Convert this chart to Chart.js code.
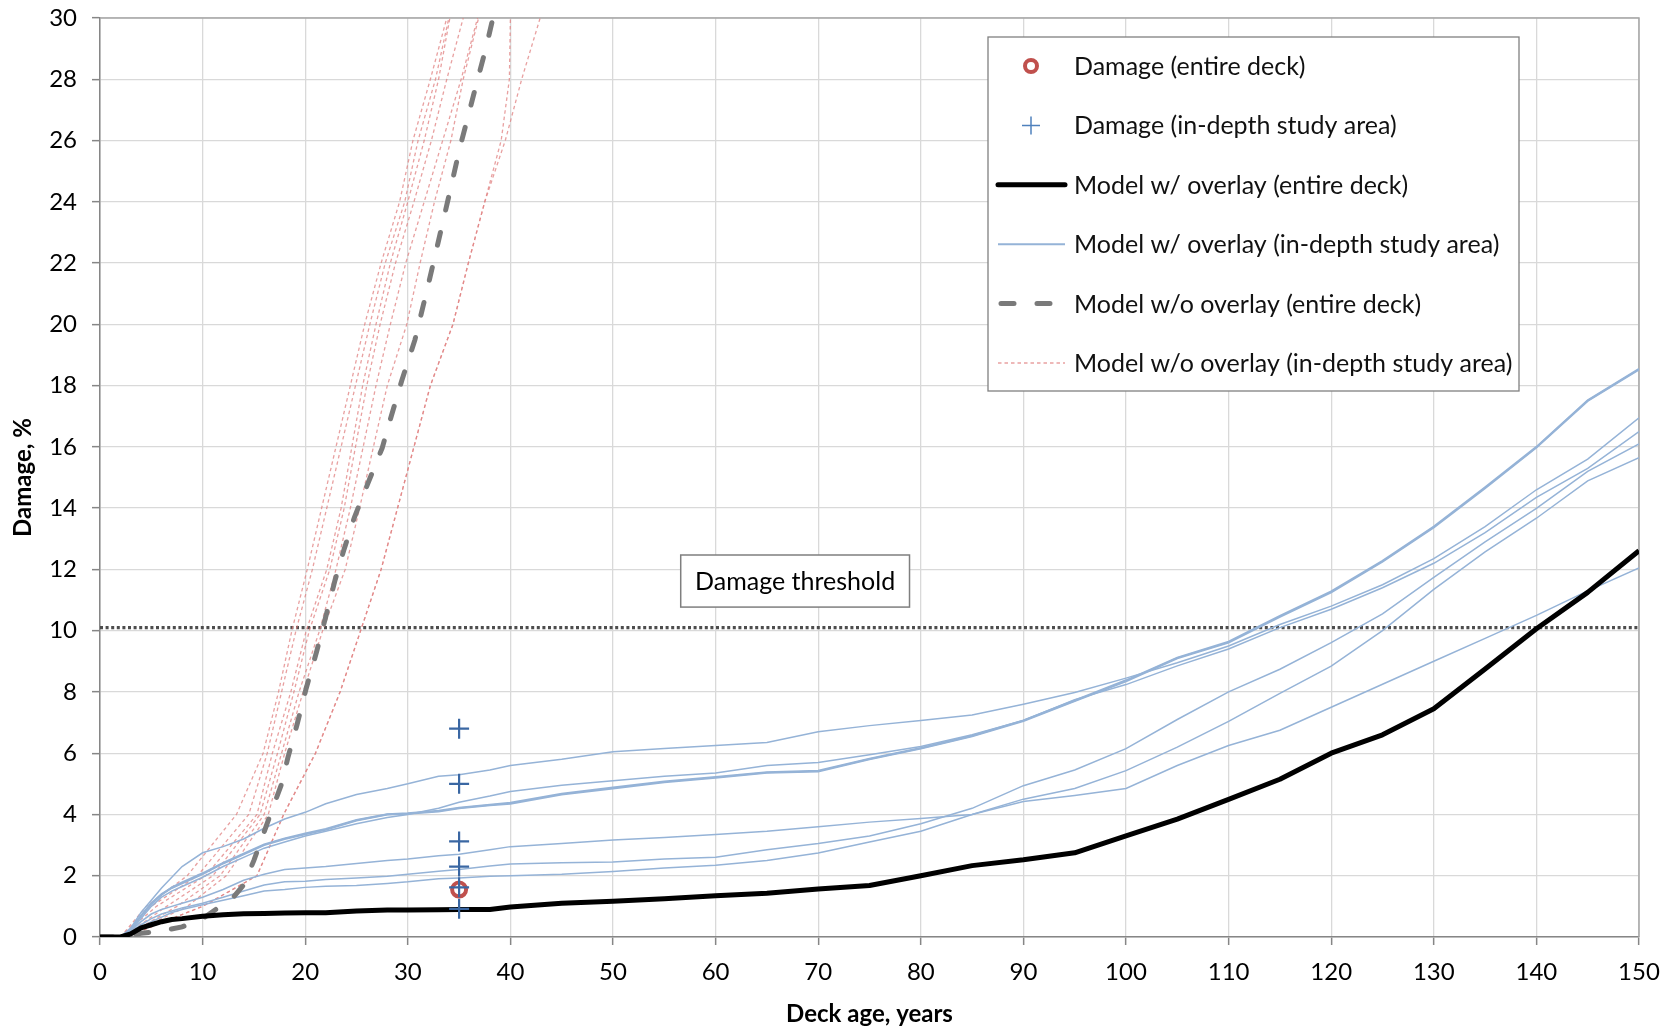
<!DOCTYPE html>
<html>
<head>
<meta charset="utf-8">
<script src="https://cdn.jsdelivr.net/npm/chart.js@4.4.1/dist/chart.umd.min.js"></script>
<style>
  html, body { margin: 0; padding: 0; background: #fff; }
  #wrap { width: 1673px; height: 1029px; }
</style>
</head>
<body>
<div id="wrap"><canvas id="chart" width="1673" height="1029"></canvas></div>
<script>
// Deck damage vs. age — model with/without overlay

// shared age grid for the "with overlay" model curves (years)
const AGE = [0,2,3,4,5,6,7,8,10,12,14,16,18,20,22,25,28,30,33,35,38,40,45,50,55,60,65,70,75,80,85,90,95,100,105,110,115,120,125,130,135,140,145,150];

// Model w/ overlay (entire deck), %
const WITH_DECK = [0,0,0.1,0.3,0.4,0.5,0.57,0.6,0.68,0.73,0.76,0.77,0.78,0.79,0.79,0.85,0.88,0.88,0.89,0.9,0.9,0.98,1.1,1.17,1.25,1.35,1.43,1.57,1.68,2.0,2.33,2.52,2.75,3.3,3.85,4.49,5.15,6.0,6.6,7.45,8.75,10.06,11.25,12.61];

// Model w/ overlay (in-depth study area), one list per run
const WITH_AREA_1 = [0,0,0.3,0.8,1.2,1.6,1.95,2.3,2.75,2.95,3.2,3.55,3.85,4.07,4.35,4.65,4.85,5.0,5.25,5.3,5.45,5.6,5.8,6.05,6.15,6.25,6.35,6.7,6.9,7.07,7.25,7.6,7.98,8.45,8.95,9.5,10.2,10.8,11.5,12.35,13.4,14.6,15.6,16.95];
const WITH_AREA_2 = [0,0,0.2,0.6,1.0,1.3,1.5,1.65,1.95,2.3,2.6,2.9,3.1,3.3,3.45,3.7,3.9,4.0,4.2,4.4,4.6,4.75,4.95,5.1,5.25,5.35,5.6,5.7,5.95,6.22,6.6,7.07,7.75,8.24,8.85,9.4,10.1,10.7,11.4,12.2,13.2,14.35,15.3,16.5];
const WITH_AREA_3 = [0,0,0.25,0.7,1.1,1.4,1.6,1.75,2.05,2.4,2.7,3.0,3.2,3.35,3.5,3.8,4.0,4.02,4.1,4.2,4.3,4.35,4.65,4.85,5.05,5.2,5.36,5.4,5.8,6.15,6.55,7.05,7.7,8.35,9.1,9.61,10.45,11.25,12.25,13.37,14.65,15.98,17.5,18.52];
const WITH_AREA_4 = [0,0,0.24,0.68,1.08,1.38,1.62,1.78,2.08,2.42,2.72,3.02,3.22,3.38,3.53,3.82,4.01,4.04,4.12,4.22,4.32,4.38,4.68,4.88,5.08,5.22,5.38,5.43,5.82,6.17,6.57,7.07,7.72,8.38,9.12,9.64,10.48,11.28,12.28,13.4,14.68,16.0,17.52,18.55];
const WITH_AREA_5 = [0,0,0.2,0.5,0.75,0.9,1.0,1.1,1.3,1.55,1.85,2.05,2.2,2.25,2.3,2.4,2.5,2.55,2.65,2.7,2.85,2.95,3.05,3.17,3.25,3.35,3.45,3.6,3.75,3.87,4.0,4.42,4.62,4.85,5.6,6.25,6.75,7.5,8.25,9.0,9.75,10.5,11.3,12.05];
const WITH_AREA_6 = [0,0,0.15,0.4,0.6,0.75,0.85,0.95,1.1,1.3,1.5,1.7,1.8,1.82,1.88,1.93,1.98,2.05,2.15,2.2,2.32,2.38,2.42,2.45,2.55,2.6,2.85,3.05,3.3,3.7,4.2,4.94,5.45,6.15,7.1,8.0,8.74,9.61,10.55,11.74,12.9,13.99,15.2,16.1];
const WITH_AREA_7 = [0,0,0.1,0.3,0.5,0.65,0.8,0.9,1.05,1.2,1.35,1.5,1.55,1.62,1.66,1.68,1.75,1.8,1.9,1.93,1.98,2.0,2.05,2.14,2.25,2.34,2.5,2.74,3.1,3.45,4.0,4.5,4.85,5.43,6.2,7.04,7.95,8.84,10.0,11.35,12.57,13.67,14.89,15.65];

// Model w/o overlay (entire deck)
const WITHOUT_DECK_AGE = [0,2,4,6,8,10,11.5,13,14,15,16.5,17.7,18.3,19.2,20.1,21.1,22.0,22.9,23.8,24.8,26.1,27.5,28.3,29.4,30.7,32.0,33.6,35.1,36.5,37.6,38.3];
const WITHOUT_DECK_VAL = [0,0,0.12,0.2,0.33,0.6,0.95,1.3,1.7,2.5,3.9,5.0,5.84,6.93,8.12,9.3,10.45,11.64,12.67,13.7,14.8,15.96,16.9,18.15,19.5,21.3,23.6,25.8,27.6,29.0,30.0];

// Model w/o overlay (in-depth study area): age (years) at which each damage level is reached
const WITHOUT_AREA_LEVEL = [0,1,2,4,6,8,10,12,14,18,20,22,24,26,28,30];
const WITHOUT_AREA_AGES = [
  [2.0,4.5,8.5,13.3,15.9,17.4,18.7,20.2,21.6,24.4,25.8,27.4,29.2,30.5,32.2,33.8],
  [2.0,5.0,9.5,14.5,16.3,17.7,19.1,20.7,22.1,24.9,26.3,27.8,29.7,31.0,32.7,34.0],
  [2.0,5.5,10.3,15.3,16.8,18.6,20.1,22.1,23.5,25.6,26.9,28.3,30.0,31.6,33.0,34.1],
  [2.2,6.5,11.0,15.6,17.3,18.9,20.4,22.4,23.8,26.0,27.3,28.8,30.6,32.3,33.8,35.4],
  [2.3,7.5,11.7,16.0,17.7,19.4,21.4,23.0,24.4,26.9,28.3,29.8,31.6,33.4,35.2,36.8],
  [2.3,8.5,12.3,16.4,18.0,19.8,21.7,23.9,25.3,28.0,29.9,31.2,32.6,34.2,35.4,36.9],
  [2.5,10.0,15.3,17.9,21.0,23.4,25.4,27.4,29.0,32.2,34.4,35.9,37.5,39.1,39.9,40.0],
  [2.5,10.0,15.3,17.9,21.0,23.4,25.4,27.4,29.0,32.2,34.4,35.9,37.5,39.5,41.1,42.9]
];

// field observations at deck age 35
const OBS_AGE = 35;
const OBS_DECK = [1.55];
const OBS_AREA = [6.8, 5.0, 3.12, 2.3, 1.62, 0.92];

const THRESHOLD = 10.1;
const X_TICKS = { min: 0, max: 150, step: 10 };
const Y_TICKS = { min: 0, max: 30, step: 2 };

const FONT = "Lato";
const BLUE_LINE = "#95b3d7";
const RED_DOT = "rgba(224,128,128,0.75)";
const GREY_DASH = "#7a7a7a";
const OBS_RED = "#c0504d";
const OBS_BLUE = "#3a67a3";

function pts(xs, ys) { return xs.map((x, i) => ({ x, y: ys[i] })); }

const datasets = [];
datasets.push({ label: "Damage (in-depth study area)", data: OBS_AREA.map(v => ({ x: OBS_AGE, y: v })),
  showLine: false, pointStyle: "cross", pointRadius: 10, borderColor: OBS_BLUE, borderWidth: 2.2, order: 0 });
datasets.push({ label: "Damage (entire deck)", data: OBS_DECK.map(v => ({ x: OBS_AGE, y: v })),
  showLine: false, pointStyle: "circle", pointRadius: 7, borderColor: OBS_RED, backgroundColor: "rgba(0,0,0,0)", borderWidth: 4, order: 1 });
datasets.push({ label: "Model w/ overlay (entire deck)", data: pts(AGE, WITH_DECK),
  borderColor: "#000", borderWidth: 5, borderJoinStyle: "round", pointRadius: 0, order: 2 });
datasets.push({ label: "Model w/o overlay (entire deck)", data: pts(WITHOUT_DECK_AGE, WITHOUT_DECK_VAL),
  borderColor: GREY_DASH, borderWidth: 5, borderDash: [13, 23], borderCapStyle: "round", pointRadius: 0, order: 3 });
[WITH_AREA_1, WITH_AREA_2, WITH_AREA_3, WITH_AREA_4, WITH_AREA_5, WITH_AREA_6, WITH_AREA_7].forEach((s, i) => {
  datasets.push({ label: "Model w/ overlay (in-depth study area) " + (i + 1), data: pts(AGE, s),
    borderColor: BLUE_LINE, borderWidth: (i === 2 || i === 3) ? 2 : 1.5, pointRadius: 0, order: 4 });
});
WITHOUT_AREA_AGES.forEach((ages, i) => {
  datasets.push({ label: "Model w/o overlay (in-depth study area) " + (i + 1), data: pts(ages, WITHOUT_AREA_LEVEL),
    borderColor: RED_DOT, borderWidth: 1.3, borderDash: [3.5, 3], pointRadius: 0, order: 5 });
});
datasets.push({ label: "Damage threshold", data: [{ x: X_TICKS.min, y: THRESHOLD }, { x: X_TICKS.max, y: THRESHOLD }],
  borderColor: "#4d4d4d", borderWidth: 3.2, borderDash: [3, 2.6], pointRadius: 0, order: 6 });

// top / right frame of the plot area
const frame = {
  id: "frame",
  beforeDatasetsDraw(chart) {
    const { ctx, chartArea: a } = chart;
    ctx.save();
    ctx.strokeStyle = "#a6a6a6"; ctx.lineWidth = 1.5;
    ctx.beginPath();
    ctx.moveTo(a.left, a.top); ctx.lineTo(a.right, a.top); ctx.lineTo(a.right, a.bottom);
    ctx.stroke();
    ctx.restore();
  }
};

// boxed "Damage threshold" label
const thresholdLabel = {
  id: "thresholdLabel",
  afterDatasetsDraw(chart) {
    const { ctx, scales: { x, y } } = chart;
    const l = x.getPixelForValue(56.6), r = x.getPixelForValue(78.9);
    const t = y.getPixelForValue(12.47), b = y.getPixelForValue(10.77);
    ctx.save();
    ctx.fillStyle = "#fff"; ctx.fillRect(l, t, r - l, b - t);
    ctx.strokeStyle = "#7f7f7f"; ctx.lineWidth = 1.5; ctx.strokeRect(l, t, r - l, b - t);
    ctx.fillStyle = "#000"; ctx.font = `25px ${FONT}`;
    ctx.textAlign = "center"; ctx.textBaseline = "middle";
    ctx.fillText("Damage threshold", (l + r) / 2, (t + b) / 2 + 1);
    ctx.restore();
  }
};

// boxed legend inside the plot, top right
const LEGEND_ITEMS = [
  { text: "Damage (entire deck)", kind: "circle" },
  { text: "Damage (in-depth study area)", kind: "cross" },
  { text: "Model w/ overlay (entire deck)", kind: "black" },
  { text: "Model w/ overlay (in-depth study area)", kind: "blue" },
  { text: "Model w/o overlay (entire deck)", kind: "grey" },
  { text: "Model w/o overlay (in-depth study area)", kind: "red" }
];
const boxLegend = {
  id: "boxLegend",
  afterDraw(chart) {
    const { ctx, chartArea: a } = chart;
    const L = a.left + 888, T = a.top + 19, W = 531, H = 354;
    ctx.save();
    ctx.fillStyle = "#fff"; ctx.fillRect(L, T, W, H);
    ctx.strokeStyle = "#808080"; ctx.lineWidth = 1.3; ctx.strokeRect(L, T, W, H);
    ctx.font = `25px ${FONT}`; ctx.textBaseline = "middle"; ctx.textAlign = "left";
    LEGEND_ITEMS.forEach((it, i) => {
      const cy = T + 29 + i * 59.4;
      const x0 = L + 10, x1 = L + 77, cx = L + 43;
      ctx.save();
      if (it.kind === "circle") {
        ctx.strokeStyle = OBS_RED; ctx.lineWidth = 4;
        ctx.beginPath(); ctx.arc(cx, cy, 6, 0, Math.PI * 2); ctx.stroke();
      } else if (it.kind === "cross") {
        ctx.strokeStyle = "#4f81bd"; ctx.lineWidth = 1.5;
        ctx.beginPath(); ctx.moveTo(cx - 9, cy); ctx.lineTo(cx + 9, cy);
        ctx.moveTo(cx, cy - 9); ctx.lineTo(cx, cy + 9); ctx.stroke();
      } else {
        const st = { black: ["#000", 5, [], "round"], blue: [BLUE_LINE, 2, [], "butt"],
                     grey: [GREY_DASH, 5, [13, 23], "round"], red: [RED_DOT, 1.3, [3.5, 3], "butt"] }[it.kind];
        ctx.strokeStyle = st[0]; ctx.lineWidth = st[1]; ctx.setLineDash(st[2]); ctx.lineCap = st[3];
        const s = it.kind === "grey" ? x0 + 3 : x0, e = it.kind === "grey" ? x1 - 3 : x1;
        ctx.beginPath(); ctx.moveTo(s, cy); ctx.lineTo(e, cy); ctx.stroke();
      }
      ctx.restore();
      ctx.fillStyle = "#111";
      ctx.fillText(it.text, L + 86, cy + 1);
    });
    ctx.restore();
  }
};

new Chart(document.getElementById("chart"), {
  type: "line",
  data: { datasets },
  options: {
    responsive: false, animation: false, devicePixelRatio: 1,
    layout: { padding: { top: 18, right: 34, bottom: 0, left: 0 } },
    elements: { line: { tension: 0, fill: false } },
    plugins: { legend: { display: false }, tooltip: { enabled: false } },
    scales: {
      x: {
        type: "linear", min: X_TICKS.min, max: X_TICKS.max,
        ticks: { stepSize: X_TICKS.step, color: "#000", font: { family: FONT, size: 24 }, padding: 13, maxRotation: 0 },
        grid: { color: "#d9d9d9", lineWidth: 1.3, tickLength: 8, tickColor: "#868686", tickWidth: 1.5 },
        border: { color: "#868686", width: 1.5 },
        title: { display: true, text: "Deck age, years", color: "#000", font: { family: FONT, size: 24, weight: "bold" }, padding: { top: 3, bottom: 0 } },
        afterFit(s) { s.height = 92; }
      },
      y: {
        type: "linear", min: Y_TICKS.min, max: Y_TICKS.max,
        ticks: { stepSize: Y_TICKS.step, color: "#000", font: { family: FONT, size: 24 }, padding: 15 },
        grid: { color: "#d9d9d9", lineWidth: 1.3, tickLength: 8, tickColor: "#868686", tickWidth: 1.5 },
        border: { color: "#868686", width: 1.5 },
        title: { display: true, text: "Damage, %", color: "#000", font: { family: FONT, size: 24, weight: "bold" }, padding: { top: 9, bottom: 0 } },
        afterFit(s) { s.width = 100; s.paddingTop = 0; s.paddingBottom = 0; }
      }
    }
  },
  plugins: [frame, thresholdLabel, boxLegend]
});
</script>
</body>
</html>
